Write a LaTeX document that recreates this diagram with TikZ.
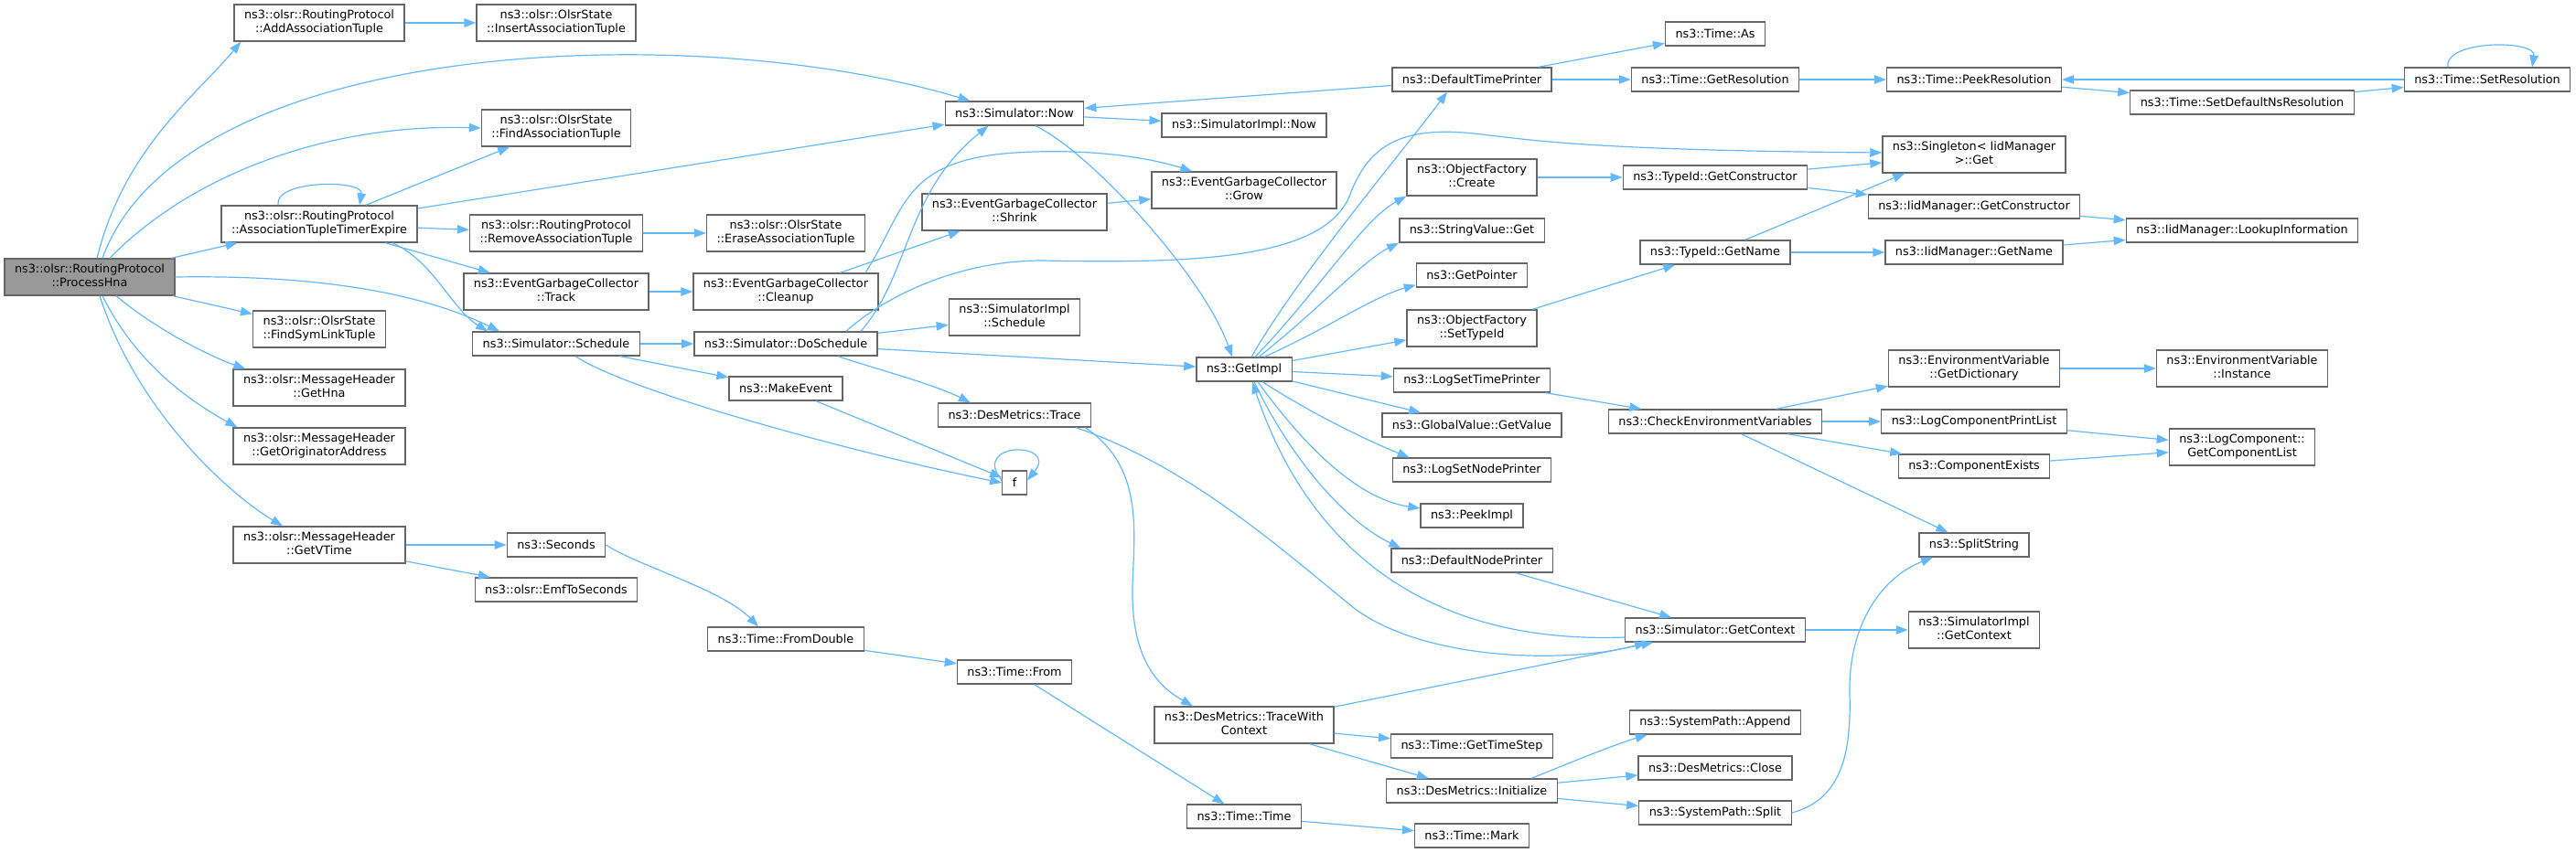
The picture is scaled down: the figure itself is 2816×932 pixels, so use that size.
\documentclass[tikz,border=0pt]{standalone}
\usepackage{fontspec}
\setmainfont{DejaVu Sans}
\usepackage{xcolor}
\definecolor{EdgeBlue}{HTML}{63B8FF}
\definecolor{NodeGray}{HTML}{666666}
\definecolor{HnaFill}{HTML}{999999}
\usepackage{tikz}
\usetikzlibrary{arrows.meta, positioning, calc}
% two-line label: first line left, second line centred
\newcommand{\twoline}[2]{\begin{tabular}{@{}c@{}}#1\hfill\\#2\end{tabular}}
\tikzset{
  % Box styles
  funcbox/.style={rectangle, draw=NodeGray, fill=white, line width=1.3pt, inner xsep=11pt, inner ysep=5pt, minimum height=26pt, font=\fontsize{12.8}{15}\selectfont, text=black},
  mainbox/.style={funcbox, fill=HnaFill},
  % Arrow styles
  callarrow/.style={-{Triangle[length=13pt, width=9.5pt]}, draw=EdgeBlue, line width=1.2pt}
}

\begin{document}
\begin{tikzpicture}[x=1pt, y=-1pt]
  \useasboundingbox (0,0) rectangle (2816,932);

  % Rank 1
  \node[mainbox] (hna) at (98,303) {\twoline{ns3::olsr::RoutingProtocol}{::ProcessHna}};

  % Rank 2
  \node[funcbox] (addAT) at (349,25) {\twoline{ns3::olsr::RoutingProtocol}{::AddAssociationTuple}};
  \node[funcbox] (atte) at (349,245) {\twoline{ns3::olsr::RoutingProtocol}{::AssociationTupleTimerExpire}};
  \node[funcbox] (fslt) at (349,360) {\twoline{ns3::olsr::OlsrState}{::FindSymLinkTuple}};
  \node[funcbox] (gethna) at (349,424) {\twoline{ns3::olsr::MessageHeader}{::GetHna}};
  \node[funcbox] (goa) at (349,488) {\twoline{ns3::olsr::MessageHeader}{::GetOriginatorAddress}};
  \node[funcbox] (gvt) at (349,596) {\twoline{ns3::olsr::MessageHeader}{::GetVTime}};

  % Rank 3
  \node[funcbox] (insAT) at (608,25) {\twoline{ns3::olsr::OlsrState}{::InsertAssociationTuple}};
  \node[funcbox] (findAT) at (608,140) {\twoline{ns3::olsr::OlsrState}{::FindAssociationTuple}};
  \node[funcbox] (remAT) at (608,255) {\twoline{ns3::olsr::RoutingProtocol}{::RemoveAssociationTuple}};
  \node[funcbox] (track) at (608,319) {\twoline{ns3::EventGarbageCollector}{::Track}};
  \node[funcbox] (sched) at (608,376) {ns3::Simulator::Schedule};
  \node[funcbox] (secs) at (608,596) {ns3::Seconds};
  \node[funcbox] (emf) at (608,645) {ns3::olsr::EmfToSeconds};

  % Rank 4
  \node[funcbox] (eraseAT) at (859,255) {\twoline{ns3::olsr::OlsrState}{::EraseAssociationTuple}};
  \node[funcbox] (cleanup) at (859,319) {\twoline{ns3::EventGarbageCollector}{::Cleanup}};
  \node[funcbox] (dosched) at (859,376) {ns3::Simulator::DoSchedule};
  \node[funcbox] (mkev) at (859,425) {ns3::MakeEvent};
  \node[funcbox] (fromdbl) at (859,699) {ns3::Time::FromDouble};

  % Rank 5
  \node[funcbox] (now) at (1109,124) {ns3::Simulator::Now};
  \node[funcbox] (shrink) at (1109,232) {\twoline{ns3::EventGarbageCollector}{::Shrink}};
  \node[funcbox] (simsched) at (1109,347) {\twoline{ns3::SimulatorImpl}{::Schedule}};
  \node[funcbox] (trace) at (1109,454) {ns3::DesMetrics::Trace};
  \node[funcbox] (f) at (1109,528) {f};
  \node[funcbox] (from) at (1109,735) {ns3::Time::From};

  % Rank 6
  \node[funcbox] (implnow) at (1360,137) {ns3::SimulatorImpl::Now};
  \node[funcbox] (grow) at (1360,208) {\twoline{ns3::EventGarbageCollector}{::Grow}};
  \node[funcbox] (getimpl) at (1360,404) {ns3::GetImpl};
  \node[funcbox] (twc) at (1360,793) {\twoline{ns3::DesMetrics::TraceWith}{Context}};
  \node[funcbox] (ttime) at (1360,893) {ns3::Time::Time};

  % Rank 7
  \node[funcbox] (dtp) at (1609,87) {ns3::DefaultTimePrinter};
  \node[funcbox] (ofcreate) at (1609,194) {\twoline{ns3::ObjectFactory}{::Create}};
  \node[funcbox] (svget) at (1609,252) {ns3::StringValue::Get};
  \node[funcbox] (getptr) at (1609,301) {ns3::GetPointer};
  \node[funcbox] (ofsettid) at (1609,359) {\twoline{ns3::ObjectFactory}{::SetTypeId}};
  \node[funcbox] (lstp) at (1609,416) {ns3::LogSetTimePrinter};
  \node[funcbox] (gvget) at (1609,465) {ns3::GlobalValue::GetValue};
  \node[funcbox] (lsnp) at (1609,514) {ns3::LogSetNodePrinter};
  \node[funcbox] (peek) at (1609,564) {ns3::PeekImpl};
  \node[funcbox] (dnp) at (1609,613) {ns3::DefaultNodePrinter};
  \node[funcbox] (gts) at (1609,816) {ns3::Time::GetTimeStep};
  \node[funcbox] (init) at (1609,865) {ns3::DesMetrics::Initialize};
  \node[funcbox] (mark) at (1609,914) {ns3::Time::Mark};

  % Rank 8
  \node[funcbox] (as) at (1875,37) {ns3::Time::As};
  \node[funcbox] (getres) at (1875,87) {ns3::Time::GetResolution};
  \node[funcbox] (tgc) at (1875,194) {ns3::TypeId::GetConstructor};
  \node[funcbox] (tgn) at (1875,276) {ns3::TypeId::GetName};
  \node[funcbox] (cev) at (1875,461) {ns3::CheckEnvironmentVariables};
  \node[funcbox] (ctx) at (1875,689) {ns3::Simulator::GetContext};
  \node[funcbox] (append) at (1875,790) {ns3::SystemPath::Append};
  \node[funcbox] (close) at (1875,840) {ns3::DesMetrics::Close};
  \node[funcbox] (split) at (1875,889) {ns3::SystemPath::Split};

  % Rank 9
  \node[funcbox] (peekres) at (2158,87) {ns3::Time::PeekResolution};
  \node[funcbox] (singleton) at (2158,169) {\twoline{ns3::Singleton< IidManager}{>::Get}};
  \node[funcbox] (igc) at (2158,226) {ns3::IidManager::GetConstructor};
  \node[funcbox] (ign) at (2158,276) {ns3::IidManager::GetName};
  \node[funcbox] (dict) at (2158,403) {\twoline{ns3::EnvironmentVariable}{::GetDictionary}};
  \node[funcbox] (lcpl) at (2158,461) {ns3::LogComponentPrintList};
  \node[funcbox] (cexists) at (2158,510) {ns3::ComponentExists};
  \node[funcbox] (splitstr) at (2158,596) {ns3::SplitString};
  \node[funcbox] (implctx) at (2158,689) {\twoline{ns3::SimulatorImpl}{::GetContext}};

  % Rank 10 and 11
  \node[funcbox] (setdef) at (2451,112) {ns3::Time::SetDefaultNsResolution};
  \node[funcbox] (lookup) at (2451,252) {ns3::IidManager::LookupInformation};
  \node[funcbox] (instance) at (2451,403) {\twoline{ns3::EnvironmentVariable}{::Instance}};
  \node[funcbox] (gcl) at (2451,489) {\twoline{ns3::LogComponent::}{GetComponentList}};
  \node[funcbox] (setres) at (2719,87) {ns3::Time::SetResolution};

  % Calls from ProcessHna
  \draw[callarrow] ($(hna.north)+(8,0)$) .. controls +(30,-120) and +(-50,60) .. ($(addAT.south west)+(8,0)$);
  \draw[callarrow] ($(hna.north)+(14,0)$) .. controls (200,40) and (760,20) .. ($(now.north west)+(28,0)$);
  \draw[callarrow] ($(hna.north)+(22,0)$) .. controls (210,190) and (360,135) .. (findAT.west);
  \draw[callarrow] (hna) -- (atte);
  \draw[callarrow] (hna.east) .. controls (380,300) and (480,330) .. ($(sched.north west)+(30,0)$);
  \draw[callarrow] (hna) -- (fslt);
  \draw[callarrow] ($(hna.south)+(29,0)$) .. controls (170,360) and (230,390) .. ($(gethna.north west)+(14,0)$);
  \draw[callarrow] ($(hna.south)+(14,0)$) .. controls (150,400) and (210,440) .. ($(goa.north west)+(5,0)$);
  \draw[callarrow] ($(hna.south)+(11,0)$) .. controls (150,450) and (250,540) .. ($(gvt.north)+(-40,0)$);

  % Rank 2 calls
  \draw[callarrow] (addAT) -- (insAT);
  \draw[callarrow] ($(atte.north)+(-45,0)$) .. controls +(-5,-28) and +(5,-28) .. ($(atte.north)+(44,0)$);
  \draw[callarrow] (atte) -- (findAT);
  \draw[callarrow] (atte) -- (now);
  \draw[callarrow] (atte) -- (remAT);
  \draw[callarrow] (atte) -- (track);
  \draw[callarrow] ($(atte.south)+(80,0)$) .. controls +(45,20) and +(-40,-25) .. ($(sched.north west)+(17,0)$);
  \draw[callarrow] (gvt) -- (secs);
  \draw[callarrow] (gvt) -- (emf);

  % Rank 3 calls
  \draw[callarrow] (remAT) -- (eraseAT);
  \draw[callarrow] (track) -- (cleanup);
  \draw[callarrow] (sched) -- (dosched);
  \draw[callarrow] (sched) -- (mkev);
  \draw[callarrow] ($(sched.south)+(21,0)$) .. controls +(60,40) and +(-150,-30) .. (f.west);
  \draw[callarrow] (secs.east) .. controls (700,620) and (790,645) .. ($(fromdbl.north)+(-30,0)$);

  % Rank 4 calls
  \draw[callarrow] (cleanup) -- (shrink);
  \draw[callarrow] ($(cleanup.north)+(87,0)$) .. controls (990,230) and (985,175) .. (1110,167) .. controls (1190,162) and (1255,172) .. ($(grow.north west)+(45,0)$);
  \draw[callarrow] ($(dosched.north)+(82,0)$) .. controls (995,300) and (990,210) .. ($(now.south west)+(48,0)$);
  \draw[callarrow] ($(dosched.north)+(66,0)$) .. controls (960,330) and (1040,285) .. (1139,285) .. controls (1300,288) and (1445,285) .. (1475,215) .. controls (1495,160) and (1530,140) .. (1600,145) .. controls (1660,150) and (1700,164) .. ($(singleton.west)+(0,-2)$);
  \draw[callarrow] (dosched) -- (simsched);
  \draw[callarrow] (dosched) -- (getimpl);
  \draw[callarrow] ($(dosched.south)+(57,0)$) .. controls +(45,15) and +(-40,-20) .. ($(trace.north west)+(36,0)$);
  \draw[callarrow] (mkev) -- (f);
  \draw[callarrow] (fromdbl) -- (from);

  % Rank 5 calls
  \draw[callarrow] (now) -- (implnow);
  \draw[callarrow] ($(now.south)+(23,0)$) .. controls (1190,165) and (1315,300) .. ($(getimpl.north)+(-13,0)$);
  \draw[callarrow] (shrink) -- (grow);
  \draw[callarrow] (f.170) .. controls +(-35,-43) and +(35,-43) .. (f.10);
  \draw[callarrow] ($(trace.south east)+(-7,0)$) .. controls (1250,510) and (1240,580) .. (1238,640) .. controls (1236,720) and (1265,750) .. ($(twc.north)+(-56,0)$);
  \draw[callarrow] ($(trace.south east)+(-17,0)$) .. controls (1300,510) and (1400,600) .. (1480,665) .. controls (1560,725) and (1720,725) .. ($(ctx.south west)+(24,0)$);
  \draw[callarrow] (from) -- (ttime);

  % Calls from GetImpl
  \draw[callarrow] ($(getimpl.north)+(8,0)$) .. controls (1420,300) and (1530,170) .. ($(dtp.south)+(-27,0)$);
  \draw[callarrow] ($(getimpl.north)+(12,0)$) .. controls (1440,320) and (1490,240) .. (ofcreate.south west);
  \draw[callarrow] ($(getimpl.north)+(16,0)$) .. controls (1440,340) and (1490,285) .. (svget.south west);
  \draw[callarrow] ($(getimpl.north)+(22,0)$) .. controls (1450,360) and (1500,325) .. ($(getptr.south west)+(0,-3)$);
  \draw[callarrow] (getimpl) -- (ofsettid);
  \draw[callarrow] (getimpl) -- (lstp);
  \draw[callarrow] (getimpl) -- (gvget);
  \draw[callarrow] ($(getimpl.south)+(20,0)$) .. controls (1430,450) and (1490,480) .. ($(lsnp.north west)+(19,0)$);
  \draw[callarrow] ($(getimpl.south)+(15,0)$) .. controls (1420,480) and (1480,545) .. ($(peek.west)+(0,-8)$);
  \draw[callarrow] ($(getimpl.south)+(11,0)$) .. controls (1410,500) and (1470,570) .. ($(dnp.north west)+(11,0)$);
  \draw[callarrow] (twc) -- (gts);
  \draw[callarrow] (twc) -- (init);
  \draw[callarrow] (twc) -- (ctx);
  \draw[callarrow] (ttime) -- (mark);

  % Rank 7 calls
  \draw[callarrow] (dtp) -- (now);
  \draw[callarrow] (dtp) -- (as);
  \draw[callarrow] (dtp) -- (getres);
  \draw[callarrow] (ofcreate) -- (tgc);
  \draw[callarrow] (ofsettid) -- (tgn);
  \draw[callarrow] (lstp) -- (cev);
  \draw[callarrow] (dnp) -- (ctx);
  \draw[callarrow] ($(init.north)+(65,0)$) .. controls +(30,-12) and +(-40,12) .. ($(append.south west)+(20,0)$);
  \draw[callarrow] (init) -- (close);
  \draw[callarrow] (init) -- (split);

  % Rank 8 calls
  \draw[callarrow] (getres) -- (peekres);
  \draw[callarrow] (tgc) -- (singleton);
  \draw[callarrow] (tgc) -- (igc);
  \draw[callarrow] (tgn) -- ($(singleton.south west)+(25,0)$);
  \draw[callarrow] (tgn) -- (ign);
  \draw[callarrow] (cev) -- (dict);
  \draw[callarrow] (cev) -- (lcpl);
  \draw[callarrow] (cev) -- (cexists);
  \draw[callarrow] (cev) -- (splitstr);
  \draw[callarrow] ($(ctx.west)+(0,8)$) .. controls (1560,705) and (1430,600) .. ($(getimpl.south)+(9,0)$);
  \draw[callarrow] (ctx) -- (implctx);
  \draw[callarrow] (split.east) .. controls (2010,875) and (2024,830) .. (2022,760) .. controls (2020,680) and (2060,630) .. ($(splitstr.south)+(-45,0)$);

  % Rank 9 and beyond
  \draw[callarrow] (peekres) -- (setdef);
  \draw[callarrow] (setdef) -- (setres);
  \draw[callarrow] (setres) -- (peekres);
  \draw[callarrow] ($(setres.north)+(-43,0)$) .. controls +(-5,-30) and +(5,-30) .. ($(setres.north)+(49,0)$);
  \draw[callarrow] (igc) -- (lookup);
  \draw[callarrow] (ign) -- (lookup);
  \draw[callarrow] (dict) -- (instance);
  \draw[callarrow] (lcpl) -- (gcl);
  \draw[callarrow] (cexists) -- (gcl);
\end{tikzpicture}
\end{document}
